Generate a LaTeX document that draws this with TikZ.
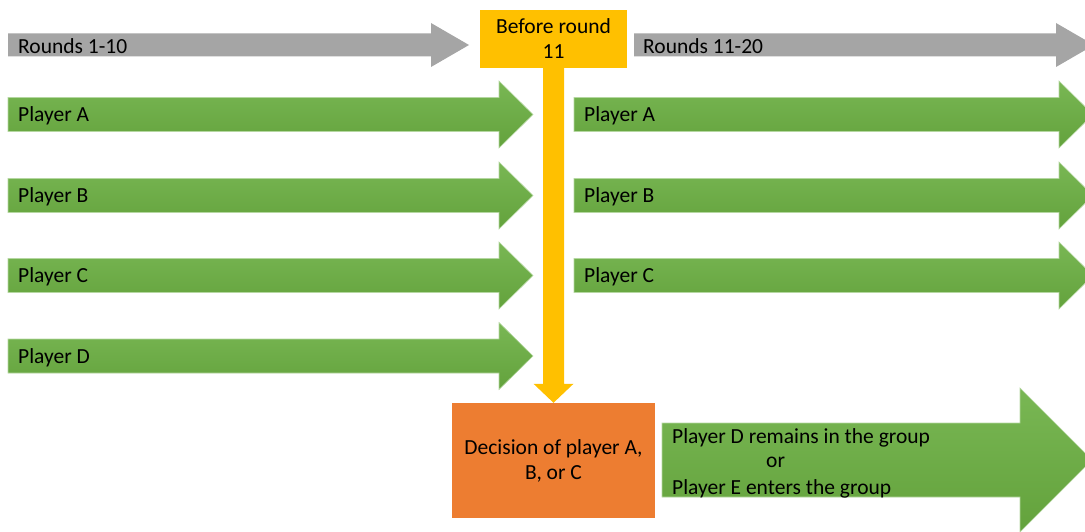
\documentclass[tikz,border=0pt]{standalone}
\usepackage{fontspec}
\setmainfont{Carlito}
\usetikzlibrary{calc}
\definecolor{grayA}{HTML}{A5A5A5}
\definecolor{greenTop}{HTML}{79B754}
\definecolor{greenBot}{HTML}{63A23C}
\definecolor{yel}{HTML}{FFC000}
\definecolor{ora}{HTML}{ED7D31}
% style, x start, x head, x tip, y centre, shaft half, head half
\newcommand{\harrow}[7]{%
  \path[#1] (#2,#5-#6) -- (#3,#5-#6) -- (#3,#5-#7) -- (#4,#5) -- (#3,#5+#7) -- (#3,#5+#6) -- (#2,#5+#6) -- cycle;}
\begin{document}
\begin{tikzpicture}[x=1pt,y=-1pt,
  grayarrow/.style={fill=grayA},
  greenarrow/.style={top color=greenTop,bottom color=greenBot,draw=greenTop!55!white,line width=0.6pt},
  lbl/.style={anchor=west,inner sep=0pt,yshift=-1.5pt,font=\fontsize{21.5}{25.5}\selectfont,text=black},
  boxtext/.style={inner sep=0pt,align=center,font=\fontsize{21.5}{25}\selectfont,text=black},
  ybox/.style={boxtext,fill=yel,minimum width=147pt,minimum height=58pt},
  obox/.style={boxtext,fill=ora,minimum width=203pt,minimum height=115pt}]
\useasboundingbox (0,0) rectangle (1085,532);
\clip (0,0) rectangle (1085,532);
% grey time arrows
\harrow{grayarrow}{8}{431}{469}{45}{11.5}{22}
\harrow{grayarrow}{634}{1056}{1094}{45}{11.5}{22}
\node[lbl] (r1) at (18,45) {Rounds 1-10};
\node[lbl] (r2) at (643,45) {Rounds 11-20};
% left player arrows
\foreach \yc/\nm in {114.5/A,195.5/B,275.5/C,356/D}{
  \harrow{greenarrow}{8}{499}{533}{\yc}{17}{33.5}
  \node[lbl] (L\nm) at (18,\yc) {Player \nm};
}
% right player arrows
\foreach \yc/\nm in {114.5/A,195.5/B,275.5/C}{
  \harrow{greenarrow}{574}{1059}{1093}{\yc}{17}{33.5}
  \node[lbl] (R\nm) at (584,\yc) {Player \nm};
}
% big bottom arrow
\harrow{greenarrow}{662}{1020}{1092}{460}{37}{72}
\node[lbl] (o1) at (672,436) {Player D remains in the group};
\node[lbl] (o2) at (766,461) {or};
\node[lbl] (o3) at (672,487) {Player E enters the group};
% boxes
\node[ybox] (before) at (553.5,39) {\raisebox{-1pt}{Before round}\\\raisebox{-1pt}{11}};
\node[obox] (decision) at (553.5,460.5) {\raisebox{-1pt}{Decision of player A,}\\\raisebox{-1pt}{B, or C}};
% yellow connector
\fill[yel] ($(before.south)+(-10.5,-1)$) -- ($(decision.north)+(-10.5,-19)$) -- ($(decision.north)+(-20,-19)$)
  -- (decision.north) -- ($(decision.north)+(20,-19)$) -- ($(decision.north)+(10.5,-19)$)
  -- ($(before.south)+(10.5,-1)$) -- cycle;
\end{tikzpicture}
\end{document}
